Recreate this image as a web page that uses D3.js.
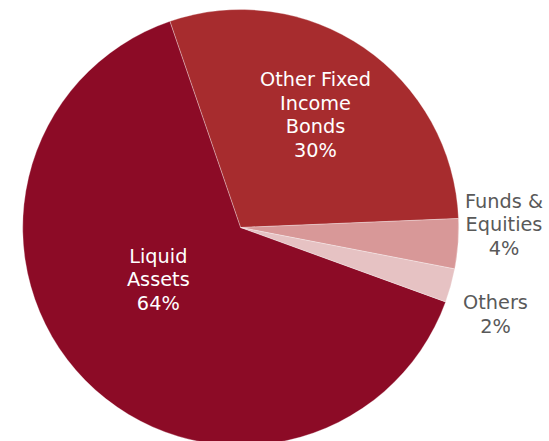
<!DOCTYPE html>
<html><head><meta charset="utf-8">
<script src="https://cdn.jsdelivr.net/npm/d3@7"></script>
<style>body{margin:0;background:#fff;}svg{display:block;}</style>
</head><body>
<script>
const categories = ["Liquid Assets", "Other Fixed Income Bonds", "Funds & Equities", "Others"];
const values = [64.2, 29.6, 3.7, 2.5];
const pctLabels = ["64%", "30%", "4%", "2%"];
const labelLines = [["Liquid", "Assets"], ["Other Fixed", "Income", "Bonds"], ["Funds &", "Equities"], ["Others"]];
const colors = ["#8c0b26", "#a72c2e", "#d89898", "#e6c2c3"];

const W = 549, H = 441, cx = 240.7, cy = 227.5, R = 218;
const svg = d3.select("body").append("svg").attr("width", W).attr("height", H);
const g = svg.append("g").attr("transform", `translate(${cx},${cy})`);
const deg = Math.PI / 180;
const start = 109.95 * deg;
const pie = d3.pie().sort(null).value(d => d).startAngle(start).endAngle(start + 2 * Math.PI);
const arcs = pie(values);
const arc = d3.arc().innerRadius(0).outerRadius(R);
g.selectAll("path").data(arcs).join("path")
  .attr("d", arc).attr("fill", (d, i) => colors[i])
  .attr("stroke", "#fff").attr("stroke-width", 0.5).attr("stroke-opacity", 0.6);

const labelPos = [[158.3, 256], [315.5, 79.5], [504, 201], [495.5, 302.5]];
const labelColor = ["#fff", "#fff", "#595959", "#595959"];
const lh = 23.6;
categories.forEach((c, i) => {
  const lines = labelLines[i].concat([pctLabels[i]]);
  const t = svg.append("text").attr("text-anchor", "middle")
    .attr("font-family", "DejaVu Sans, Verdana, sans-serif").attr("font-size", 19.3)
    .attr("fill", labelColor[i]);
  lines.forEach((l, j) => {
    t.append("tspan").attr("x", labelPos[i][0]).attr("y", labelPos[i][1] + j * lh)
      .attr("dy", "0.35em").text(l);
  });
});
</script>
</body></html>
